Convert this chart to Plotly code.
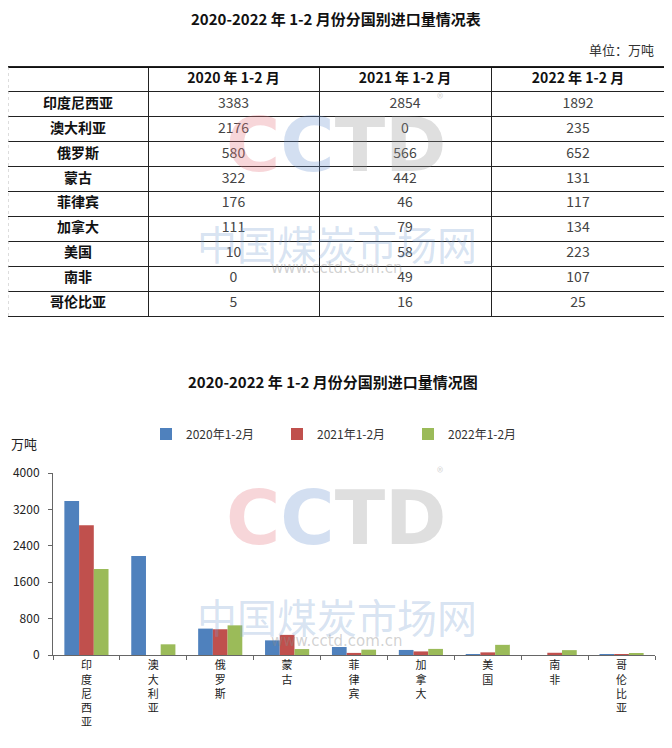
import plotly.graph_objects as go

# data
countries = ["印度尼西亚", "澳大利亚", "俄罗斯", "蒙古", "菲律宾", "加拿大", "美国", "南非", "哥伦比亚"]
v2020 = [3383, 2176, 580, 322, 176, 111, 10, 0, 5]
v2021 = [2854, 0, 566, 442, 46, 79, 58, 49, 16]
v2022 = [1892, 235, 652, 131, 117, 134, 223, 107, 25]
periods = ["2020 年 1-2 月", "2021 年 1-2 月", "2022 年 1-2 月"]
legend_names = ["2020年1-2月", "2021年1-2月", "2022年1-2月"]
yticks = [0, 800, 1600, 2400, 3200, 4000]

# the page puts the plot 8px in from the top-left, so size and place for that
OFF = 8
W, H = 672 - OFF, 748 - OFF
CJK = "Noto Sans CJK SC"


def px(x):
    return max(0, (x - OFF) / W)


def py(y):
    return 1 - (y - OFF) / H


fig = go.Figure()

# table drawn on its own hidden axes (x2/y2): columns in units of width, rows 0..10
col_edges = [0, 140, 311, 483, 657]
n_rows = len(countries) + 1
col_mid = [(a + b) / 2 for a, b in zip(col_edges[:-1], col_edges[1:])]

# header
fig.add_trace(go.Scatter(
    x=col_mid[1:], y=[0.5] * 3, text=["<b>%s</b>" % p for p in periods],
    mode="text", textfont=dict(family=CJK, size=14, color="#111"),
    xaxis="x2", yaxis="y2", showlegend=False, hoverinfo="skip"))
# row names
fig.add_trace(go.Scatter(
    x=[col_mid[0]] * len(countries), y=[i + 1.5 for i in range(len(countries))],
    text=["<b>%s</b>" % c for c in countries],
    mode="text", textfont=dict(family=CJK, size=14, color="#111"),
    xaxis="x2", yaxis="y2", showlegend=False, hoverinfo="skip"))
# values
for j, vals in enumerate([v2020, v2021, v2022]):
    fig.add_trace(go.Scatter(
        x=[col_mid[j + 1]] * len(vals), y=[i + 1.5 for i in range(len(vals))],
        text=[str(v) for v in vals],
        mode="text", textfont=dict(family=CJK, size=14, color="#444"),
        xaxis="x2", yaxis="y2", showlegend=False, hoverinfo="skip"))

# bars
colors = ["#4F81BD", "#C0504D", "#9BBB59"]
for name, vals, col in zip(legend_names, [v2020, v2021, v2022], colors):
    fig.add_trace(go.Bar(x=countries, y=vals, name=name, marker_color=col,
                         marker_line_width=0))

fig.update_layout(
    width=W, height=H,
    margin=dict(l=0, r=0, t=0, b=0, autoexpand=False),
    paper_bgcolor="white", plot_bgcolor="white",
    barmode="group", bargap=0.34, bargroupgap=0,
    font=dict(family=CJK, color="#333"),
    xaxis=dict(
        domain=[px(53), px(655)],
        tickvals=countries,
        ticktext=["<br>".join(c) for c in countries],
        tickfont=dict(family=CJK, size=11, color="#222"),
        showline=True, linecolor="#666", linewidth=1,
        ticks="outside", tickson="boundaries", ticklen=4, tickcolor="#666",
        showgrid=False, automargin=False,
    ),
    yaxis=dict(
        domain=[py(655), py(473)],
        range=[0, 4000],
        tickvals=yticks,
        tickfont=dict(family="Liberation Sans Narrow, " + CJK, size=12, color="#222"),
        showline=True, linecolor="#666", linewidth=1,
        ticks="outside", ticklen=4, tickcolor="#666", ticklabelstandoff=6,
        showgrid=False, zeroline=False, automargin=False,
    ),
    xaxis2=dict(
        domain=[px(8), px(665)], range=[0, 657], anchor="y2",
        tickvals=col_edges, showticklabels=False, ticks="",
        showgrid=True, gridcolor="#222", gridwidth=1, zeroline=False,
        showline=True, mirror=True, linecolor="#222", fixedrange=True,
    ),
    yaxis2=dict(
        domain=[py(316), py(67)], range=[n_rows, 0], anchor="x2",
        tickvals=list(range(n_rows + 1)), showticklabels=False, ticks="",
        showgrid=True, gridcolor="#222", gridwidth=1, zeroline=False,
        showline=True, mirror=True, linecolor="#222", fixedrange=True,
    ),
    legend=dict(
        orientation="h", x=px(146), xanchor="left", y=py(434), yanchor="middle",
        font=dict(family=CJK, size=12, color="#333"),
        entrywidth=86, entrywidthmode="pixels",
        bgcolor="rgba(0,0,0,0)",
    ),
    showlegend=True,
)

# heavier top rule and dotted left edge of the table
fig.add_shape(type="line", xref="x2", yref="y2", x0=0, x1=657, y0=0, y1=0,
              line=dict(color="#111", width=2))
fig.add_shape(type="line", xref="x2", yref="y2", x0=0, x1=0, y0=0, y1=n_rows,
              line=dict(color="#bbb", width=1, dash="dot"))

ann = [
    dict(text="<b>2020-2022 年 1-2 月份分国别进口量情况表</b>", x=336, y=19, size=15, color="#111"),
    dict(text="单位：万吨", x=621, y=50, size=13, color="#333"),
    dict(text="<b>2020-2022 年 1-2 月份分国别进口量情况图</b>", x=333, y=382, size=15, color="#111"),
    dict(text="万吨", x=24, y=443, size=13, color="#222"),
]
for a in ann:
    fig.add_annotation(text=a["text"], x=px(a["x"]), y=py(a["y"]), xref="paper", yref="paper",
                       xanchor="center", yanchor="middle", showarrow=False,
                       font=dict(family=CJK, size=a["size"], color=a["color"]))

# watermark
for cy in [145, 518]:
    fig.add_annotation(
        text="<b><span style='color:rgba(230,120,130,0.3)'>C</span>"
             "<span style='color:rgba(110,150,210,0.3)'>C</span>"
             "<span style='color:rgba(150,150,150,0.3)'>TD</span></b>",
        x=px(336), y=py(cy), xref="paper", yref="paper", xanchor="center", yanchor="middle",
        showarrow=False, font=dict(family="DejaVu Sans", size=74))
    fig.add_annotation(text="®", x=px(440), y=py(cy - 47), xref="paper", yref="paper",
                       xanchor="center", yanchor="middle",
                       showarrow=False, font=dict(size=13, color="rgba(150,150,150,0.4)"))
    fig.add_annotation(text="中国煤炭市场网", x=px(337), y=py(cy + 98), xref="paper", yref="paper",
                       xanchor="center", yanchor="middle",
                       showarrow=False, font=dict(family=CJK, size=40, color="rgba(120,160,210,0.3)"))
    fig.add_annotation(text="www.cctd.com.cn", x=px(336), y=py(cy + 123), xref="paper", yref="paper",
                       xanchor="center", yanchor="middle",
                       showarrow=False, font=dict(family="DejaVu Sans", size=15, color="rgba(140,140,140,0.4)"))

fig.write_html("out.html")
